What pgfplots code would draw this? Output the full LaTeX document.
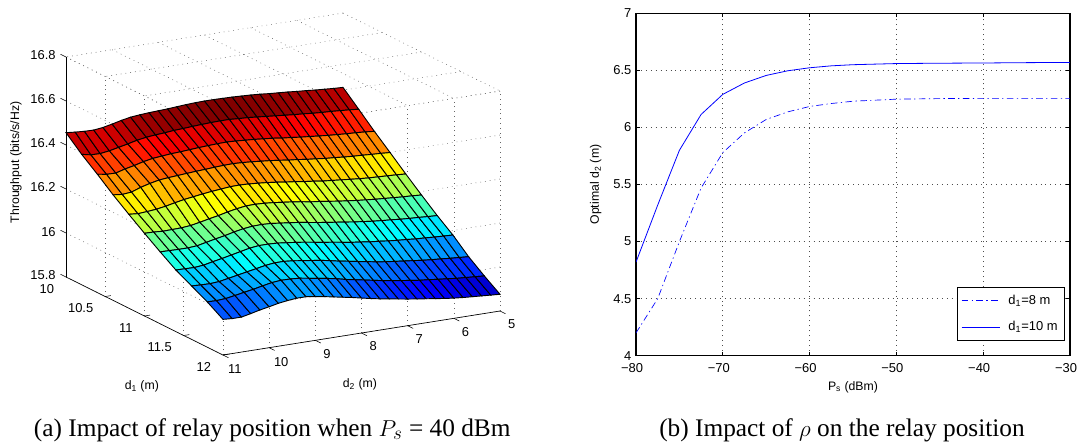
\documentclass[border=0pt]{standalone}
\usepackage{fontspec}
\setmainfont{Liberation Sans}
\newfontfamily\capfont{Liberation Serif}
\usepackage{pgfplots}
\pgfplotsset{compat=1.18}
\begin{document}
\begin{tikzpicture}
\path[use as bounding box] (0pt,0pt) rectangle (809.25pt,-332.25pt);
\begin{axis}[
  at={(49.5pt,-266.25pt)},anchor=south west,
  x={(58.875pt,-29.25pt)},y={(-34.625pt,-5.5pt)},z={(0pt,165pt)},
  xmin=10,xmax=12,ymin=5,ymax=11,zmin=15.8,zmax=16.8,
  xtick={10,10.5,11,11.5,12},ytick={5,6,7,8,9,10,11},ztick={15.8,16,16.2,16.4,16.6,16.8},
  /pgf/number format/assume math mode=true,
  /pgf/number format/fixed,
  tick label style={font=\fontsize{9.7}{11}\selectfont},
  x tick label style={anchor=east,xshift=-1.25pt,yshift=-8pt},
  y tick label style={yshift=-1pt,xshift=.5pt},
  label style={font=\fontsize{9.2}{10}\selectfont},
  axis line style={draw=none},
  tick style={draw=none},
  tick align=outside,
  tick pos=left,
  grid=major,
  grid style={black!60,line width=.4pt,dash pattern=on .6pt off 3pt},
  clip=false,
  colormap/jet,
  xlabel={d\textsubscript{1} (m)},
  ylabel={d\textsubscript{2} (m)},
  zlabel={Throughput (bits/s/Hz)},
  x label style={at={(axis cs:12.319,13.30,15.8)},anchor=center,sloped=false,rotate=0,yshift=-1.5pt},
  y label style={at={(axis cs:12.953,9.654,15.8)},anchor=center,sloped=false,rotate=0,yshift=-1.5pt},
  z label style={at={(axis cs:10,12.083,16.357)},anchor=center,sloped=false,rotate=0},
]
\addplot3[surf,shader=flat corner,draw=black,line width=.7pt,mesh/rows=31,mesh/cols=11,mesh/ordering=y varies,z buffer=none] coordinates {
(10,11,16.456)(10,10.8,16.452)(10,10.6,16.449)(10,10.4,16.448)(10,10.2,16.453)(10,10,16.462)(10,9.8,16.472)(10,9.6,16.480)(10,9.4,16.484)(10,9.2,16.487)(10,9,16.489)(10,8.8,16.491)(10,8.6,16.494)(10,8.4,16.497)(10,8.2,16.499)(10,8,16.500)(10,7.8,16.500)(10,7.6,16.499)(10,7.4,16.498)(10,7.2,16.496)(10,7,16.494)(10,6.8,16.491)(10,6.6,16.487)(10,6.4,16.484)(10,6.2,16.481)(10,6,16.477)(10,5.8,16.474)(10,5.6,16.470)(10,5.4,16.467)(10,5.2,16.464)(10,5,16.462)
(10.2,11,16.393)(10.2,10.8,16.384)(10.2,10.6,16.383)(10.2,10.4,16.389)(10.2,10.2,16.398)(10.2,10,16.407)(10.2,9.8,16.417)(10.2,9.6,16.424)(10.2,9.4,16.428)(10.2,9.2,16.431)(10.2,9,16.435)(10.2,8.8,16.437)(10.2,8.6,16.440)(10.2,8.4,16.442)(10.2,8.2,16.444)(10.2,8,16.445)(10.2,7.8,16.445)(10.2,7.6,16.442)(10.2,7.4,16.440)(10.2,7.2,16.436)(10.2,7,16.432)(10.2,6.8,16.428)(10.2,6.6,16.424)(10.2,6.4,16.420)(10.2,6.2,16.417)(10.2,6,16.413)(10.2,5.8,16.410)(10.2,5.6,16.408)(10.2,5.4,16.405)(10.2,5.2,16.402)(10.2,5,16.398)
(10.4,11,16.338)(10.4,10.8,16.331)(10.4,10.6,16.330)(10.4,10.4,16.342)(10.4,10.2,16.351)(10.4,10,16.362)(10.4,9.8,16.370)(10.4,9.6,16.374)(10.4,9.4,16.378)(10.4,9.2,16.380)(10.4,9,16.383)(10.4,8.8,16.386)(10.4,8.6,16.388)(10.4,8.4,16.390)(10.4,8.2,16.391)(10.4,8,16.389)(10.4,7.8,16.386)(10.4,7.6,16.383)(10.4,7.4,16.379)(10.4,7.2,16.375)(10.4,7,16.369)(10.4,6.8,16.365)(10.4,6.6,16.360)(10.4,6.4,16.356)(10.4,6.2,16.352)(10.4,6,16.348)(10.4,5.8,16.345)(10.4,5.6,16.342)(10.4,5.4,16.340)(10.4,5.2,16.337)(10.4,5,16.333)
(10.6,11,16.280)(10.6,10.8,16.275)(10.6,10.6,16.279)(10.6,10.4,16.294)(10.6,10.2,16.305)(10.6,10,16.314)(10.6,9.8,16.318)(10.6,9.6,16.321)(10.6,9.4,16.324)(10.6,9.2,16.327)(10.6,9,16.329)(10.6,8.8,16.332)(10.6,8.6,16.334)(10.6,8.4,16.335)(10.6,8.2,16.333)(10.6,8,16.330)(10.6,7.8,16.326)(10.6,7.6,16.322)(10.6,7.4,16.317)(10.6,7.2,16.311)(10.6,7,16.307)(10.6,6.8,16.301)(10.6,6.6,16.297)(10.6,6.4,16.292)(10.6,6.2,16.289)(10.6,6,16.285)(10.6,5.8,16.282)(10.6,5.6,16.280)(10.6,5.4,16.277)(10.6,5.2,16.275)(10.6,5,16.272)
(10.8,11,16.227)(10.8,10.8,16.223)(10.8,10.6,16.226)(10.8,10.4,16.230)(10.8,10.2,16.237)(10.8,10,16.246)(10.8,9.8,16.254)(10.8,9.6,16.260)(10.8,9.4,16.266)(10.8,9.2,16.271)(10.8,9,16.275)(10.8,8.8,16.279)(10.8,8.6,16.280)(10.8,8.4,16.278)(10.8,8.2,16.275)(10.8,8,16.271)(10.8,7.8,16.266)(10.8,7.6,16.260)(10.8,7.4,16.255)(10.8,7.2,16.249)(10.8,7,16.244)(10.8,6.8,16.238)(10.8,6.6,16.234)(10.8,6.4,16.230)(10.8,6.2,16.226)(10.8,6,16.222)(10.8,5.8,16.219)(10.8,5.6,16.217)(10.8,5.4,16.215)(10.8,5.2,16.213)(10.8,5,16.210)
(11,11,16.176)(11,10.8,16.175)(11,10.6,16.172)(11,10.4,16.173)(11,10.2,16.174)(11,10,16.178)(11,9.8,16.186)(11,9.6,16.195)(11,9.4,16.203)(11,9.2,16.213)(11,9,16.221)(11,8.8,16.227)(11,8.6,16.228)(11,8.4,16.226)(11,8.2,16.222)(11,8,16.217)(11,7.8,16.212)(11,7.6,16.206)(11,7.4,16.199)(11,7.2,16.194)(11,7,16.188)(11,6.8,16.182)(11,6.6,16.177)(11,6.4,16.172)(11,6.2,16.168)(11,6,16.164)(11,5.8,16.161)(11,5.6,16.158)(11,5.4,16.155)(11,5.2,16.153)(11,5,16.150)
(11.2,11,16.127)(11.2,10.8,16.126)(11.2,10.6,16.125)(11.2,10.4,16.125)(11.2,10.2,16.128)(11.2,10,16.137)(11.2,9.8,16.146)(11.2,9.6,16.154)(11.2,9.4,16.164)(11.2,9.2,16.172)(11.2,9,16.177)(11.2,8.8,16.178)(11.2,8.6,16.176)(11.2,8.4,16.171)(11.2,8.2,16.166)(11.2,8,16.161)(11.2,7.8,16.154)(11.2,7.6,16.147)(11.2,7.4,16.141)(11.2,7.2,16.135)(11.2,7,16.129)(11.2,6.8,16.123)(11.2,6.6,16.118)(11.2,6.4,16.113)(11.2,6.2,16.109)(11.2,6,16.106)(11.2,5.8,16.102)(11.2,5.6,16.099)(11.2,5.4,16.097)(11.2,5.2,16.094)(11.2,5,16.092)
(11.4,11,16.080)(11.4,10.8,16.079)(11.4,10.6,16.078)(11.4,10.4,16.082)(11.4,10.2,16.091)(11.4,10,16.099)(11.4,9.8,16.108)(11.4,9.6,16.117)(11.4,9.4,16.126)(11.4,9.2,16.131)(11.4,9,16.131)(11.4,8.8,16.129)(11.4,8.6,16.124)(11.4,8.4,16.119)(11.4,8.2,16.113)(11.4,8,16.106)(11.4,7.8,16.099)(11.4,7.6,16.093)(11.4,7.4,16.086)(11.4,7.2,16.079)(11.4,7,16.074)(11.4,6.8,16.068)(11.4,6.6,16.064)(11.4,6.4,16.059)(11.4,6.2,16.055)(11.4,6,16.052)(11.4,5.8,16.048)(11.4,5.6,16.046)(11.4,5.4,16.043)(11.4,5.2,16.041)(11.4,5,16.039)
(11.6,11,16.043)(11.6,10.8,16.041)(11.6,10.6,16.040)(11.6,10.4,16.043)(11.6,10.2,16.051)(11.6,10,16.059)(11.6,9.8,16.067)(11.6,9.6,16.075)(11.6,9.4,16.083)(11.6,9.2,16.088)(11.6,9,16.088)(11.6,8.8,16.084)(11.6,8.6,16.078)(11.6,8.4,16.072)(11.6,8.2,16.066)(11.6,8,16.058)(11.6,7.8,16.049)(11.6,7.6,16.042)(11.6,7.4,16.034)(11.6,7.2,16.027)(11.6,7,16.019)(11.6,6.8,16.013)(11.6,6.6,16.008)(11.6,6.4,16.003)(11.6,6.2,15.998)(11.6,6,15.993)(11.6,5.8,15.989)(11.6,5.6,15.986)(11.6,5.4,15.982)(11.6,5.2,15.979)(11.6,5,15.976)
(11.8,11,16.006)(11.8,10.8,16.005)(11.8,10.6,16.008)(11.8,10.4,16.015)(11.8,10.2,16.023)(11.8,10,16.030)(11.8,9.8,16.039)(11.8,9.6,16.047)(11.8,9.4,16.051)(11.8,9.2,16.050)(11.8,9,16.047)(11.8,8.8,16.040)(11.8,8.6,16.033)(11.8,8.4,16.026)(11.8,8.2,16.018)(11.8,8,16.008)(11.8,7.8,16.000)(11.8,7.6,15.992)(11.8,7.4,15.984)(11.8,7.2,15.976)(11.8,7,15.969)(11.8,6.8,15.963)(11.8,6.6,15.957)(11.8,6.4,15.951)(11.8,6.2,15.947)(11.8,6,15.942)(11.8,5.8,15.938)(11.8,5.6,15.933)(11.8,5.4,15.930)(11.8,5.2,15.927)(11.8,5,15.924)
(12,11,15.962)(12,10.8,15.959)(12,10.6,15.959)(12,10.4,15.968)(12,10.2,15.978)(12,10,15.986)(12,9.8,15.995)(12,9.6,16.001)(12,9.4,16.005)(12,9.2,16.005)(12,9,15.999)(12,8.8,15.992)(12,8.6,15.984)(12,8.4,15.976)(12,8.2,15.968)(12,8,15.959)(12,7.8,15.950)(12,7.6,15.942)(12,7.4,15.935)(12,7.2,15.928)(12,7,15.921)(12,6.8,15.915)(12,6.6,15.909)(12,6.4,15.903)(12,6.2,15.897)(12,6,15.892)(12,5.8,15.888)(12,5.6,15.885)(12,5.4,15.882)(12,5.2,15.879)(12,5,15.876)
};
\draw[black,line width=.5pt] (axis cs:10,11,15.8) -- (axis cs:10,11,16.8);
\draw[black,line width=.5pt] (axis cs:10,11,15.8) -- (axis cs:12,11,15.8) -- (axis cs:12,5,15.8);
\draw[black,line width=.4pt] (axis cs:10,11,15.8) -- (axis cs:9.93,11,15.8);
\draw[black,line width=.4pt] (axis cs:10,11,16) -- (axis cs:9.93,11,16);
\draw[black,line width=.4pt] (axis cs:10,11,16.2) -- (axis cs:9.93,11,16.2);
\draw[black,line width=.4pt] (axis cs:10,11,16.4) -- (axis cs:9.93,11,16.4);
\draw[black,line width=.4pt] (axis cs:10,11,16.6) -- (axis cs:9.93,11,16.6);
\draw[black,line width=.4pt] (axis cs:10,11,16.8) -- (axis cs:9.93,11,16.8);
\draw[black,line width=.4pt] (axis cs:10.5,11,15.8) -- (axis cs:10.5,10.88,15.8);
\draw[black,line width=.4pt] (axis cs:11,11,15.8) -- (axis cs:11,10.88,15.8);
\draw[black,line width=.4pt] (axis cs:11.5,11,15.8) -- (axis cs:11.5,10.88,15.8);
\draw[black,line width=.4pt] (axis cs:12,11,15.8) -- (axis cs:12,10.88,15.8);
\draw[black,line width=.4pt] (axis cs:12,11,15.8) -- (axis cs:12.07,11,15.8);
\draw[black,line width=.4pt] (axis cs:12,10,15.8) -- (axis cs:12.07,10,15.8);
\draw[black,line width=.4pt] (axis cs:12,9,15.8) -- (axis cs:12.07,9,15.8);
\draw[black,line width=.4pt] (axis cs:12,8,15.8) -- (axis cs:12.07,8,15.8);
\draw[black,line width=.4pt] (axis cs:12,7,15.8) -- (axis cs:12.07,7,15.8);
\draw[black,line width=.4pt] (axis cs:12,6,15.8) -- (axis cs:12.07,6,15.8);
\draw[black,line width=.4pt] (axis cs:12,5,15.8) -- (axis cs:12.07,5,15.8);
\end{axis}
\begin{axis}[
  at={(477pt,-266.8pt)},anchor=south west,
  scale only axis,width=325.5pt,height=256.8pt,
  xmin=-80,xmax=-30,ymin=4,ymax=7,
  xtick={-80,-70,-60,-50,-40,-30},
  xticklabels={−80,−70,−60,−50,−40,−30},
  ytick={4,4.5,5,5.5,6,6.5,7},
  yticklabels={4,4.5,5,5.5,6,6.5,7},
  tick label style={font=\fontsize{9.7}{11}\selectfont},
  x tick label style={xshift=-3pt,yshift=-2pt},
  label style={font=\fontsize{9.2}{10}\selectfont},
  axis line style={black,line width=.8pt},
  tick style={black,line width=.5pt},
  tick pos=both,
  major tick length=3pt,
  grid=major,
  grid style={black!70,line width=.5pt,dash pattern=on .7pt off 3pt},
  xlabel={P\textsubscript{s} (dBm)},
  ylabel={Optimal d\textsubscript{2} (m)},
  xlabel style={yshift=0pt},
  ylabel style={yshift=2pt},
  legend style={at={(0.988,0.044)},anchor=south east,draw=black,line width=.8pt,
    font=\fontsize{9.7}{11}\selectfont,cells={anchor=west},inner xsep=3pt,inner ysep=3.5pt,row sep=7.5pt},
  legend image code/.code={\draw[#1] (.1cm,0cm) -- (1.1cm,0cm); \path (1.25cm,0cm);},
]
\addplot[blue,line width=.5pt,dash pattern=on 5pt off 2.5pt on 1pt off 2.5pt] coordinates {
(-80,4.2)(-77.5,4.5)(-75,5.0)(-72.5,5.47)(-70,5.78)(-67.5,5.953)(-65,6.07)(-62.5,6.137)(-60,6.184)(-57.5,6.21)(-55,6.23)(-50,6.248)(-45,6.253)(-40,6.255)(-35,6.255)(-30,6.255)};
\addlegendentry{d\textsubscript{1}=8 m}
\addplot[blue,line width=.6pt] coordinates {
(-80,4.82)(-77.5,5.32)(-75,5.80)(-72.5,6.114)(-70,6.29)(-67.5,6.39)(-65,6.456)(-62.5,6.497)(-60,6.523)(-57.5,6.54)(-55,6.55)(-50,6.56)(-45,6.563)(-40,6.565)(-35,6.568)(-30,6.57)};
\addlegendentry{d\textsubscript{1}=10 m}
\end{axis}
\node[font=\capfont\fontsize{19}{20}\selectfont,anchor=center,inner sep=0pt] at (204.2pt,-322.5pt) {(a) Impact of relay position when $P_s$ = 40 dBm};
\node[font=\capfont\fontsize{19}{20}\selectfont,anchor=center,inner sep=0pt] at (631.5pt,-322.5pt) {(b) Impact of $\rho$ on the relay position};
\end{tikzpicture}
\end{document}
